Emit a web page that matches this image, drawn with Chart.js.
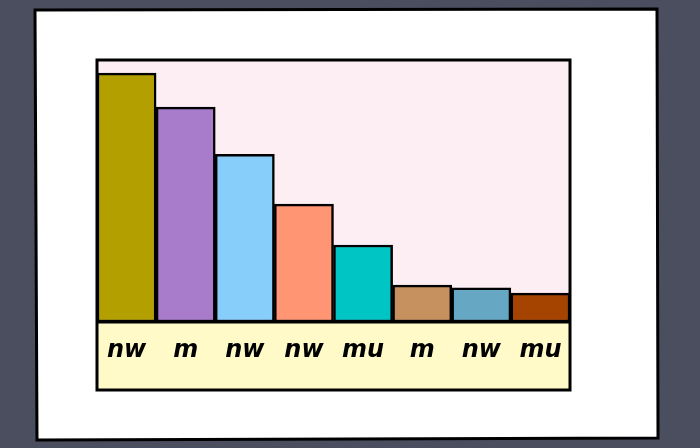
<!DOCTYPE html>
<html>
<head>
<meta charset="utf-8">
<script src="https://cdn.jsdelivr.net/npm/chart.js@4"></script>
<style>
  html, body { margin: 0; padding: 0; background: #4b4e5e; }
  #wrap { width: 700px; height: 448px; }
</style>
</head>
<body>
<div id="wrap"><canvas id="myChart" width="700" height="448"></canvas></div>
<script>
// DATA
const categories = ['nw', 'm', 'nw', 'nw', 'mu', 'm', 'nw', 'mu'];
const values = [95, 82, 64, 45, 29.4, 14.1, 13, 11];
const barColors = ['#b3a000', '#a97bcb', '#87cefa', '#ff9573', '#00c5c5', '#c6915e', '#66a7c3', '#a54300'];
const yMax = 100;

// card, pink plot, yellow label strip
const sketchFrame = {
    id: 'sketchFrame',
    beforeDraw(chart) {
        const ctx = chart.ctx;
        const a = chart.chartArea;
        ctx.save();
        ctx.fillStyle = '#4b4e5e';
        ctx.fillRect(0, 0, chart.width, chart.height);
        ctx.fillStyle = '#ffffff';
        ctx.strokeStyle = '#000';
        ctx.lineWidth = 3;
        ctx.beginPath();
        ctx.moveTo(35, 10);
        ctx.lineTo(657, 9);
        ctx.lineTo(658, 438);
        ctx.lineTo(37, 440);
        ctx.closePath();
        ctx.fill();
        ctx.stroke();
        ctx.fillStyle = '#fdeef3';
        ctx.fillRect(a.left, a.top, a.right - a.left, a.bottom - a.top);
        ctx.fillStyle = '#fffac8';
        ctx.fillRect(a.left, a.bottom, a.right - a.left, 68);
        ctx.restore();
    },
    afterDraw(chart) {
        const ctx = chart.ctx;
        const a = chart.chartArea;
        ctx.save();
        ctx.strokeStyle = '#000';
        ctx.lineWidth = 3;
        ctx.strokeRect(a.left, a.top, a.right - a.left, a.bottom + 68 - a.top);
        ctx.beginPath();
        ctx.moveTo(a.left, a.bottom);
        ctx.lineTo(a.right, a.bottom);
        ctx.stroke();
        ctx.restore();
    }
};

const barConfig = {
    type: 'bar',
    data: {
        labels: categories,
        datasets: [{
            data: values,
            backgroundColor: barColors,
            borderColor: '#000',
            borderWidth: 2.5,
            borderSkipped: false,
            barPercentage: 1,
            categoryPercentage: 1
        }]
    },
    options: {
        responsive: false,
        animation: false,
        layout: { padding: { left: 97, right: 130, top: 60, bottom: 58 } },
        plugins: { legend: { display: false }, tooltip: { enabled: false } },
        scales: {
            x: {
                grid: { display: false, drawTicks: false },
                border: { display: false },
                ticks: {
                    color: '#000',
                    padding: 14,
                    maxRotation: 0,
                    autoSkip: false,
                    font: { family: 'DejaVu Sans', size: 24, weight: 'bold', style: 'italic' }
                },
                afterFit(scale) { scale.height = 68; }
            },
            y: {
                display: false,
                min: 0,
                max: yMax
            }
        }
    },
    plugins: [sketchFrame]
};

function initCharts() {
    const ctx = document.getElementById('myChart').getContext('2d');
    new Chart(ctx, barConfig);
}

if (document.readyState === 'loading') {
    document.addEventListener('DOMContentLoaded', initCharts);
} else {
    initCharts();
}
</script>
</body>
</html>
